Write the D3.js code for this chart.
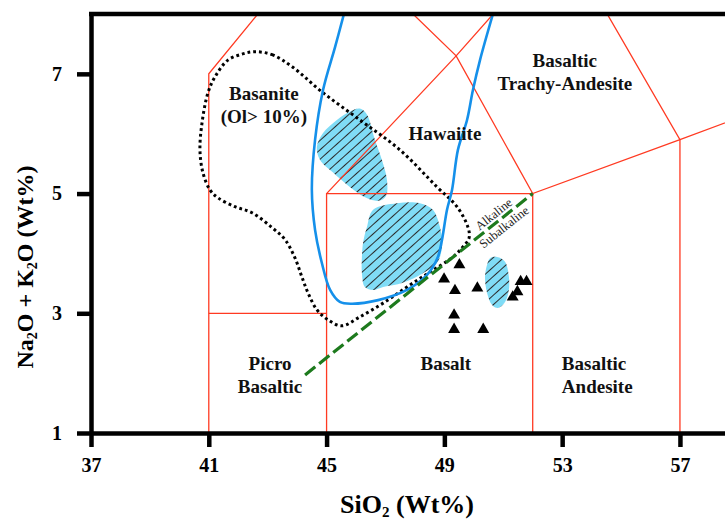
<!DOCTYPE html>
<html>
<head>
<meta charset="utf-8">
<script src="https://cdnjs.cloudflare.com/ajax/libs/d3/7.8.5/d3.min.js"></script>
<style>
  body { margin: 0; background: #fff; }
  text { font-family: "Liberation Serif", "Times New Roman", serif; }
</style>
</head>
<body>
<svg id="chart" width="725" height="519"></svg>
<script>
// tick values
const xTicks = [37, 41, 45, 49, 53, 57];
const yTicks = [1, 3, 5, 7];

// TAS field boundaries (SiO2, Na2O+K2O)
const tasLines = [
  [[41, 1], [41, 7], [45, 9.4]],
  [[41, 3], [45, 3]],
  [[45, 1], [45, 5], [52, 5], [52, 1]],
  [[45, 5], [49.4, 7.3], [53, 9.3]],
  [[45, 9.4], [49.4, 7.3], [52, 5], [57, 5.9], [63, 7]],
  [[57, 1], [57, 5.9], [53, 9.3]]
];

// alkaline / subalkaline divide
const alkLine = [[44.27, 1.97], [52, 5]];

// blue envelope
const blueSi  = [45.59, 45.29, 44.88, 44.61, 44.50, 44.61, 44.84, 45.12, 45.45, 45.86, 46.75, 47.73, 48.41, 48.78, 48.92, 49.09, 49.26, 49.46, 49.77, 49.97, 50.21, 50.65];
const blueAlk = [8.00, 7.45, 6.73, 5.90, 5.06, 4.39, 3.84, 3.39, 3.19, 3.16, 3.22, 3.39, 3.64, 3.94, 4.23, 4.73, 5.06, 5.73, 6.23, 6.73, 7.23, 8.00];

// dotted envelope (closed)
const dotSi  = [42.57, 43.15, 43.83, 44.84, 46.13, 47.49, 48.75, 49.43, 49.80, 49.84, 49.63, 49.29, 48.51, 47.73, 46.92, 46.13, 45.52, 45.05, 44.67, 44.37, 44.16, 43.93, 43.59, 43.15, 42.47, 41.89, 41.31, 41.04, 40.80, 40.70, 40.77, 40.97, 41.21, 41.65, 42.13];
const dotAlk = [7.37, 7.32, 7.12, 6.70, 6.23, 5.73, 5.11, 4.78, 4.44, 4.26, 4.11, 3.94, 3.69, 3.44, 3.17, 2.94, 2.79, 2.89, 3.06, 3.34, 3.61, 3.92, 4.23, 4.43, 4.68, 4.78, 4.93, 5.06, 5.35, 5.73, 6.18, 6.68, 6.95, 7.23, 7.33];

// hatched fields
const field1Si  = [46.13, 46.37, 46.64, 46.88, 47.05, 47.02, 46.78, 46.34, 45.79, 45.22, 44.78, 44.67, 44.88, 45.35, 45.79];
const field1Alk = [6.42, 6.32, 5.90, 5.56, 5.23, 4.96, 4.88, 4.93, 5.11, 5.35, 5.56, 5.78, 6.01, 6.23, 6.37];
const field2Si  = [46.58, 47.39, 48.17, 48.61, 48.85, 48.92, 48.75, 48.27, 47.59, 46.92, 46.58, 46.30, 46.20, 46.20, 46.24, 46.37];
const field2Alk = [4.73, 4.84, 4.84, 4.73, 4.44, 4.11, 3.84, 3.67, 3.51, 3.44, 3.39, 3.44, 3.67, 3.94, 4.18, 4.44];
const field3Si  = [50.79, 51.06, 51.19, 51.19, 51.06, 50.82, 50.62, 50.45, 50.38, 50.45, 50.55];
const field3Alk = [3.94, 3.86, 3.61, 3.39, 3.19, 3.09, 3.14, 3.34, 3.61, 3.81, 3.92];

// samples
const sampleSi  = [49.51, 48.99, 49.36, 50.12, 49.33, 49.33, 50.32, 51.32, 51.48, 51.59, 51.79];
const sampleAlk = [3.81, 3.57, 3.38, 3.42, 2.97, 2.73, 2.73, 3.27, 3.36, 3.53, 3.53];

// field names
const fieldNames = [
  { lines: ["Basanite", "(Ol> 10%)"], si: 42.87, alk: 6.56, anchor: "middle" },
  { lines: ["Hawaiite"], si: 49.02, alk: 5.89, anchor: "middle" },
  { lines: ["Basaltic", "Trachy-Andesite"], si: 53.09, alk: 7.11, anchor: "middle" },
  { lines: ["Picro", "Basaltic"], si: 43.08, alk: 2.05, anchor: "middle" },
  { lines: ["Basalt"], si: 49.05, alk: 2.05, anchor: "middle" },
  { lines: ["Basaltic", "Andesite"], si: 52.99, alk: 2.05, anchor: "start" }
];

const svg = d3.select("#chart");
const mLeft = 91, mRight = 725, mTop = 14, mBottom = 433;

const x = d3.scaleLinear().domain([37, 58.53]).range([mLeft, mRight]);
const y = d3.scaleLinear().domain([1, 8]).range([mBottom, mTop]);

const defs = svg.append("defs");
defs.append("clipPath").attr("id", "plot")
  .append("rect").attr("x", mLeft).attr("y", mTop)
  .attr("width", mRight - mLeft).attr("height", mBottom - mTop);

const hatch = defs.append("pattern").attr("id", "hatch")
  .attr("patternUnits", "userSpaceOnUse")
  .attr("width", 7).attr("height", 7)
  .attr("patternTransform", "rotate(-42)");
hatch.append("rect").attr("width", 7).attr("height", 7).attr("fill", "#80dcf6");
hatch.append("line").attr("x1", 0).attr("x2", 7).attr("y1", 3.5).attr("y2", 3.5)
  .attr("stroke", "#2a2a2a").attr("stroke-width", 1);

const g = svg.append("g").attr("clip-path", "url(#plot)");

const zip = (a, b) => a.map((v, i) => [v, b[i]]);
const closed = d3.line().x(d => x(d[0])).y(d => y(d[1])).curve(d3.curveCatmullRomClosed.alpha(0.5));
const open = d3.line().x(d => x(d[0])).y(d => y(d[1])).curve(d3.curveCatmullRom.alpha(0.5));
const straight = d3.line().x(d => x(d[0])).y(d => y(d[1]));

// hatched fields
[[field1Si, field1Alk], [field2Si, field2Alk], [field3Si, field3Alk]].forEach(f => {
  g.append("path").attr("d", closed(zip(f[0], f[1]))).attr("fill", "url(#hatch)");
});

// TAS boundaries
g.selectAll(".tas").data(tasLines).enter().append("path")
  .attr("d", straight).attr("fill", "none")
  .attr("stroke", "#ff3a22").attr("stroke-width", 1.3);

// dotted envelope
g.append("path").attr("d", closed(zip(dotSi, dotAlk)))
  .attr("fill", "none").attr("stroke", "#000")
  .attr("stroke-width", 3).attr("stroke-dasharray", "2.8,3");

// blue envelope
g.append("path").attr("d", open(zip(blueSi, blueAlk)))
  .attr("fill", "none").attr("stroke", "#1590ea").attr("stroke-width", 2.6);

// alkaline line
g.append("path").attr("d", straight(alkLine))
  .attr("fill", "none").attr("stroke", "#1d7a1d")
  .attr("stroke-width", 3.2).attr("stroke-dasharray", "13,5");

// samples
g.selectAll(".tri").data(zip(sampleSi, sampleAlk)).enter().append("path")
  .attr("transform", d => `translate(${x(d[0])},${y(d[1])})`)
  .attr("d", d3.symbol(d3.symbolTriangle, 62)).attr("fill", "#000");

// divide labels
const p0 = alkLine[0], p1 = alkLine[1];
const ang = Math.atan2(y(p1[1]) - y(p0[1]), x(p1[0]) - x(p0[0])) * 180 / Math.PI;
const t = (50.85 - p0[0]) / (p1[0] - p0[0]);
const lx = x(50.85), ly = y(p0[1] + t * (p1[1] - p0[1]));
[["Alkaline", -4], ["Subalkaline", 12.5]].forEach(([s, dy]) => {
  svg.append("text").attr("transform", `translate(${lx},${ly}) rotate(${ang})`)
    .attr("y", dy).attr("text-anchor", "middle")
    .attr("font-size", 12.5).attr("fill", "#222").text(s);
});

// field names
fieldNames.forEach(f => {
  const tx = svg.append("text").attr("text-anchor", f.anchor)
    .attr("font-size", 19).attr("font-weight", "bold").attr("fill", "#111");
  f.lines.forEach((s, i) => {
    tx.append("tspan").attr("x", x(f.si)).attr("y", y(f.alk) + i * 22.5).text(s);
  });
});

// axes
const ax = svg.append("g").attr("transform", `translate(0,${mBottom})`)
  .call(d3.axisBottom(x).tickValues(xTicks).tickSize(14).tickSizeOuter(0).tickPadding(11).tickFormat(d3.format("d")));
const ay = svg.append("g").attr("transform", `translate(${mLeft},0)`)
  .call(d3.axisLeft(y).tickValues(yTicks).tickSize(14).tickSizeOuter(0).tickPadding(15).tickFormat(d3.format("d")));
[ax, ay].forEach(a => {
  a.select(".domain").attr("stroke", "#000").attr("stroke-width", 4.5);
  a.selectAll(".tick line").attr("stroke", "#000").attr("stroke-width", 4.5);
  a.selectAll(".tick text").attr("fill", "#000")
    .style("font-family", '"Liberation Serif", "Times New Roman", serif')
    .style("font-size", "20px").style("font-weight", "bold");
});
svg.append("line").attr("x1", mLeft - 2).attr("x2", mRight).attr("y1", mTop).attr("y2", mTop)
  .attr("stroke", "#000").attr("stroke-width", 4.5);

// axis titles
const xt = svg.append("text").attr("x", 407).attr("y", 513).attr("text-anchor", "middle")
  .attr("font-size", 26).attr("font-weight", "bold");
xt.append("tspan").text("SiO");
xt.append("tspan").attr("font-size", 15).attr("dy", 4).text("2");
xt.append("tspan").attr("dy", -4).text(" (Wt%)");

const yt = svg.append("text").attr("transform", "translate(33,267) rotate(-90)")
  .attr("text-anchor", "middle").attr("font-size", 24).attr("font-weight", "bold");
yt.append("tspan").text("Na");
yt.append("tspan").attr("font-size", 14).attr("dy", 4).text("2");
yt.append("tspan").attr("dy", -4).text("O + K");
yt.append("tspan").attr("font-size", 14).attr("dy", 4).text("2");
yt.append("tspan").attr("dy", -4).text("O (Wt%)");
</script>
</body>
</html>
